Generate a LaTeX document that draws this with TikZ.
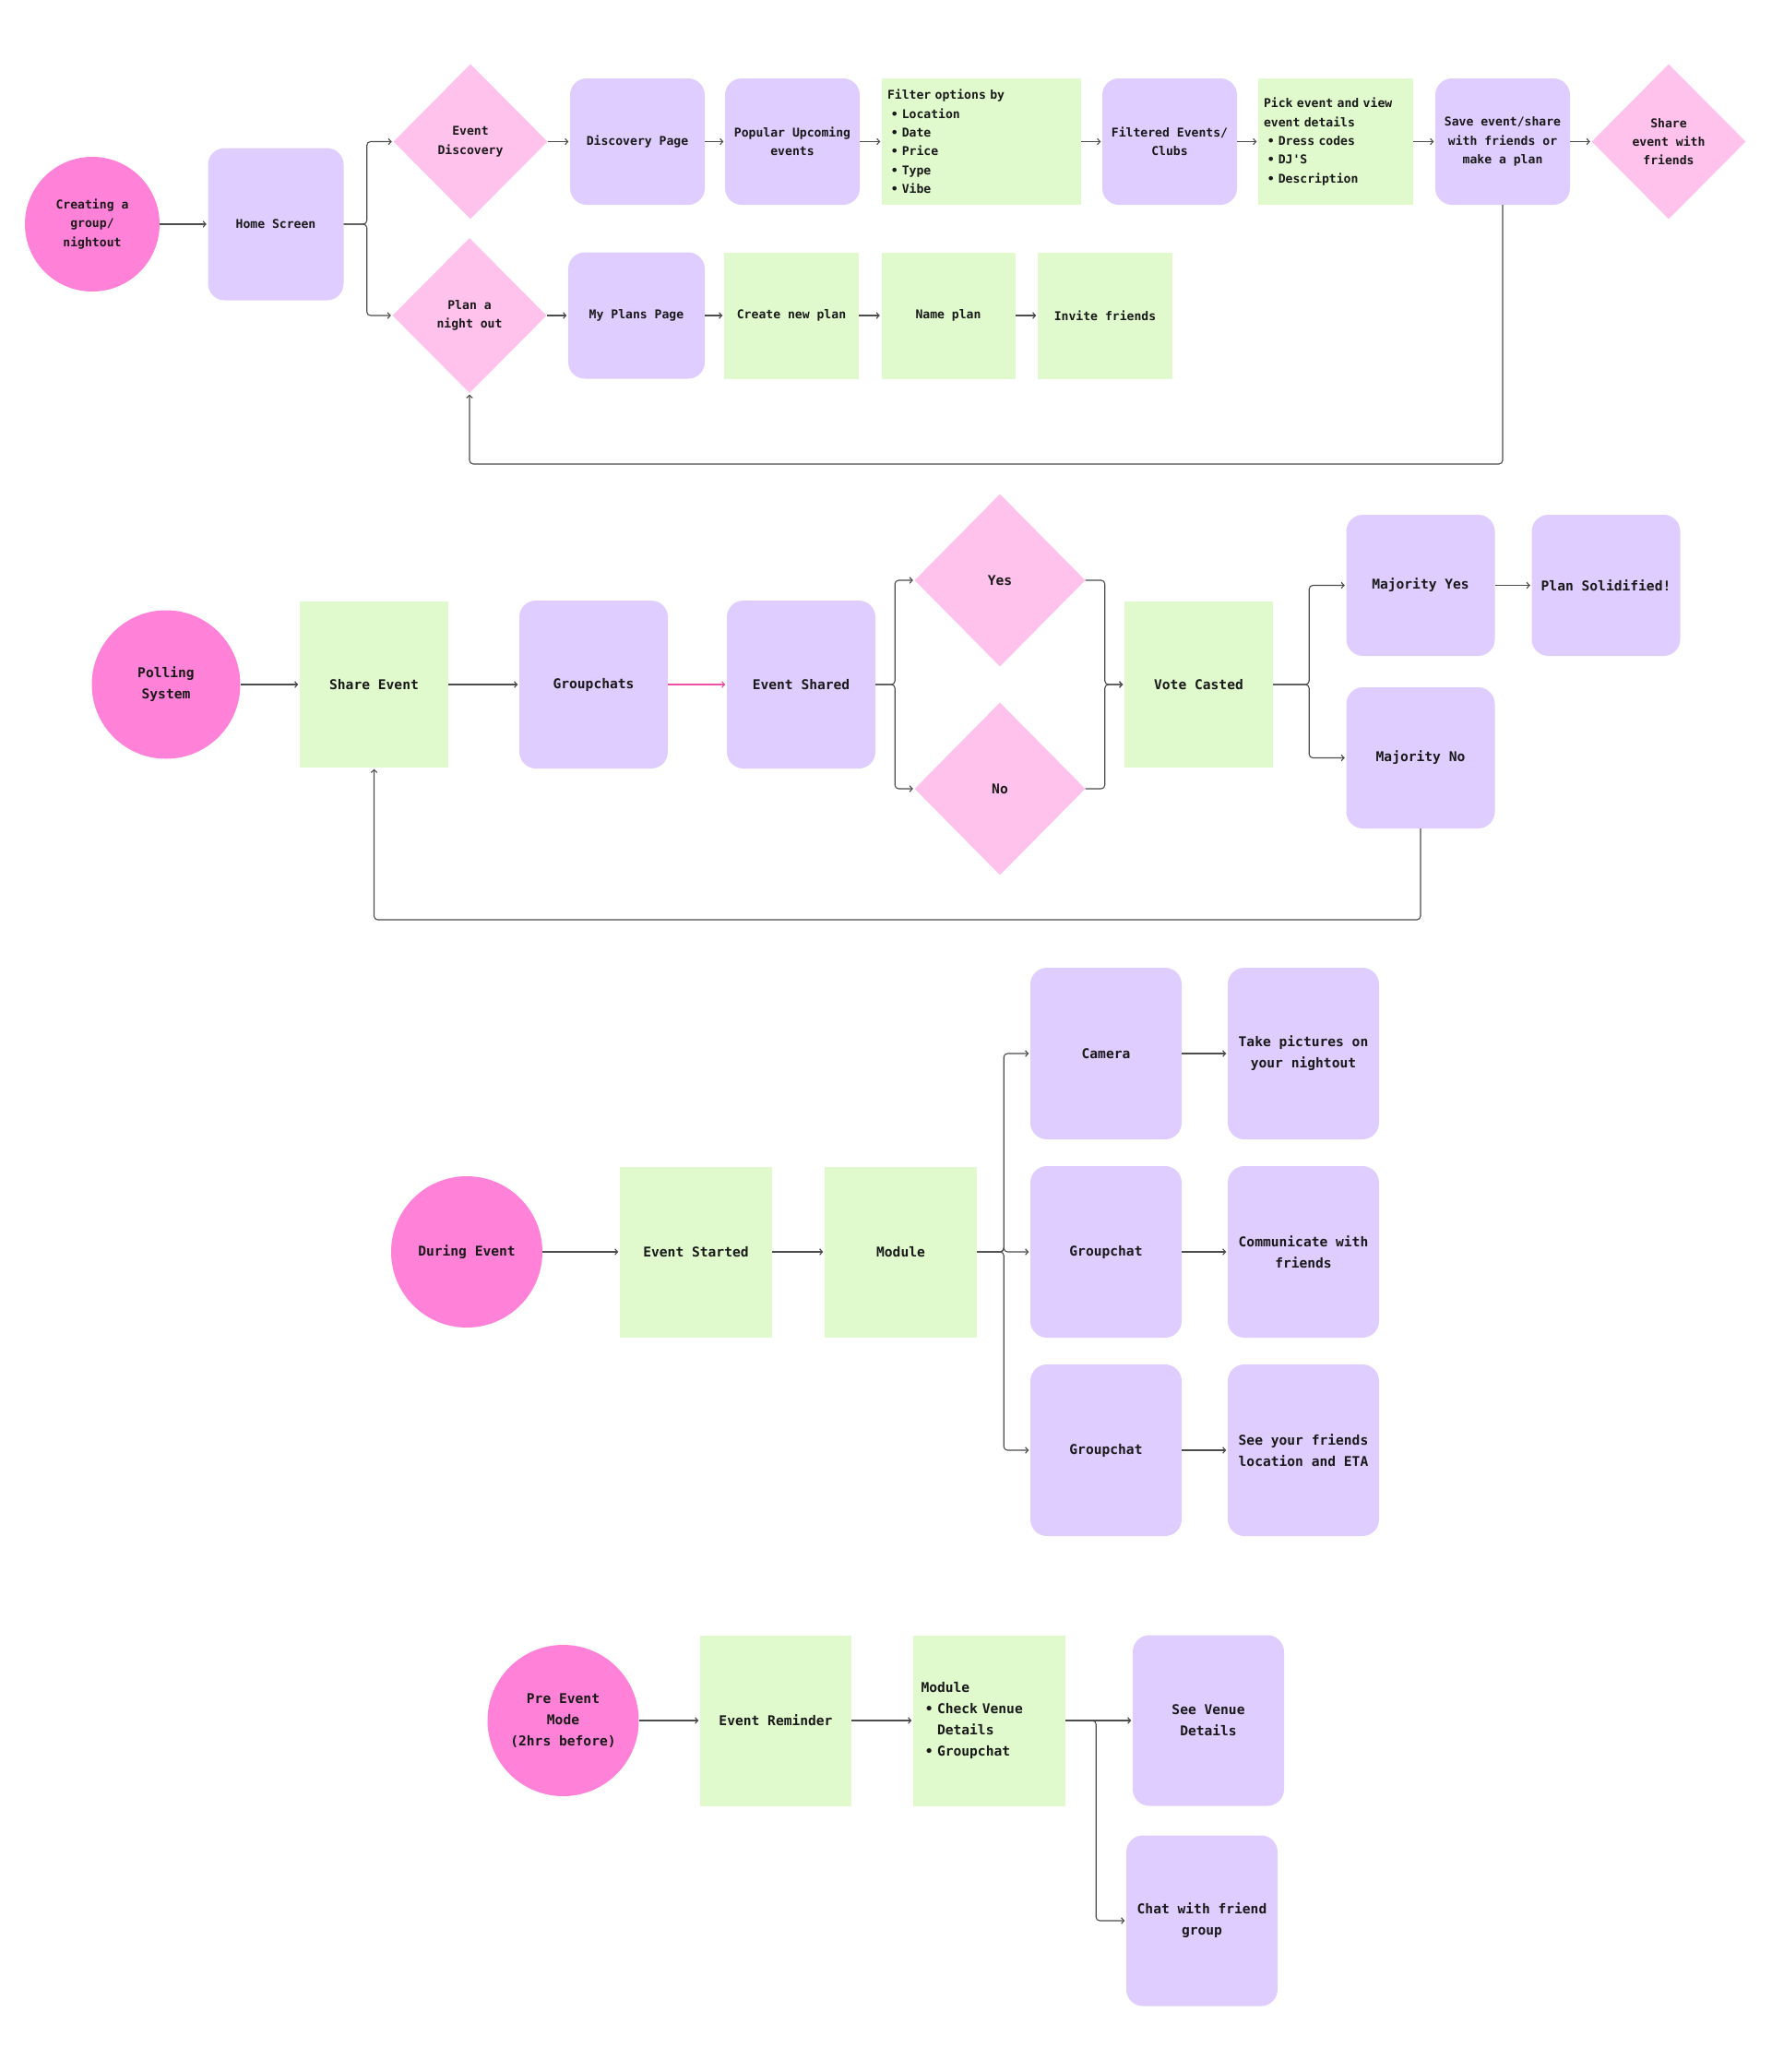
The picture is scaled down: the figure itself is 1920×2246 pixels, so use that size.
\documentclass[tikz,border=0pt]{standalone}
\usepackage{fontspec}
\setmonofont{DejaVu Sans Mono}
\usetikzlibrary{shapes.geometric,arrows.meta}
\definecolor{startpink}{RGB}{255,130,216}
\definecolor{choicepink}{RGB}{255,194,236}
\definecolor{screenlilac}{RGB}{223,205,255}
\definecolor{taskgreen}{RGB}{224,250,205}
\definecolor{linkpink}{RGB}{238,80,168}
\newcommand{\itm}[1]{\hspace*{0.3em}\textbullet\hspace*{0.3em}#1}
\newcommand{\ind}{\hspace*{1.2em}}
\begin{document}
\begin{tikzpicture}[x=1pt,y=-1pt,inner sep=0pt,
small/.style={font=\ttfamily\bfseries\fontsize{13.1}{20.3}\selectfont},
big/.style={font=\ttfamily\bfseries\fontsize{14.6}{23}\selectfont},
begin/.style={circle,fill=startpink,align=center,text=black!90},
screen/.style={rounded corners=18pt,fill=screenlilac,align=center,text=black!90},
task/.style={fill=taskgreen,align=center,text=black!90},
choice/.style={diamond,fill=choicepink,align=center,text=black!90,minimum width=167pt,minimum height=168pt},
link/.style={draw=black!70,line width=1.1pt,rounded corners=4pt,shorten >=1.5pt,-{Straight Barb[length=3pt,width=6.5pt]}}]
\useasboundingbox (0,0) rectangle (1920,2246);
\begin{scope}[small,every node/.append style={minimum width=146pt,minimum height=137pt}]
\node[begin,minimum size=146pt] (grp) at (100,243) {Creating a\\group/\\nightout};
\node[screen,minimum width=147pt,minimum height=165pt] (home) at (299,243) {Home Screen};
\node[choice] (evdisc) at (510,153.5) {Event\\Discovery};
\node[choice] (plan) at (509,342) {Plan a\\night out};
\node[screen] (disc) at (691,153.5) {Discovery Page};
\node[screen] (popular) at (859,153.5) {Popular Upcoming\\events};
\node[task,minimum width=216pt,text width=204pt,align=left] (filter) at (1064,153.5)
{Filter options by\\\itm{Location}\\\itm{Date}\\\itm{Price}\\\itm{Type}\\\itm{Vibe}};
\node[screen] (filtered) at (1268,153.5) {Filtered Events/\\Clubs};
\node[task,minimum width=168pt,text width=156pt,align=left] (pick) at (1448,153.5)
{Pick event and view\\event details\\\itm{Dress codes}\\\itm{DJ'S}\\\itm{Description}};
\node[screen] (save) at (1629,153.5) {Save event/share\\with friends or\\make a plan};
\node[choice] (sharefr) at (1809,153.5) {Share\\event with\\friends};
\node[screen,minimum width=148pt] (myplans) at (690,342) {My Plans Page};
\node[task] (newplan) at (858,342) {Create new plan};
\node[task,minimum width=145pt] (name) at (1028,342) {Name plan};
\node[task] (invite) at (1198,342) {Invite friends};
\end{scope}
\draw[link] (grp) -- (home);
\draw[link] (home.east) -- ++(25,0) |- (evdisc.west);
\draw[link] (home.east) -- ++(25,0) |- (plan.west);
\foreach \a/\b in {evdisc/disc,disc/popular,popular/filter,filter/filtered,filtered/pick,pick/save,save/sharefr,plan/myplans,myplans/newplan,newplan/name,name/invite}
{\draw[link] (\a) -- (\b);}
\coordinate (back1) at (509,503);
\draw[link] (save.south) |- (back1) -- (plan.south);
\begin{scope}[big,every node/.append style={minimum width=161pt,minimum height=182pt}]
\node[begin,minimum size=161pt] (poll) at (180,742) {Polling\\System};
\node[task,minimum height=180pt] (share) at (405.5,742) {Share Event};
\node[screen] (gchats) at (643.5,742) {Groupchats};
\node[screen] (shared) at (868.5,742) {Event Shared};
\node[choice,minimum width=185pt,minimum height=187pt] (yes) at (1084,629) {Yes};
\node[choice,minimum width=185pt,minimum height=187pt] (no) at (1084,855) {No};
\node[task,minimum height=180pt] (vote) at (1299.5,742) {Vote Casted};
\node[screen,minimum height=153pt] (myes) at (1540,634.5) {Majority Yes};
\node[screen,minimum height=153pt] (solid) at (1741,634.5) {Plan Solidified!};
\node[screen,minimum height=153pt] (mno) at (1540,821.5) {Majority No};
\end{scope}
\draw[link] (poll) -- (share);
\draw[link] (share) -- (gchats);
\draw[link,draw=linkpink] (gchats) -- (shared);
\foreach \X in {yes,no}
{\draw[link] (shared.east) -- ++(21,0) |- (\X.west);
\draw[link] (\X.east) -- ++(21,0) |- (vote.west);}
\foreach \X in {myes,mno}
{\draw[link] (vote.east) -- ++(39,0) |- (\X.west);}
\draw[link] (myes) -- (solid);
\coordinate (back2) at (405.5,997);
\draw[link] (mno.south) |- (back2) -- (share.south);
\begin{scope}[big,every node/.append style={minimum width=164pt,minimum height=186pt}]
\node[begin,minimum size=164pt] (during) at (506,1357) {During Event};
\node[task,minimum width=165pt,minimum height=185pt] (started) at (754.5,1357) {Event Started};
\node[task,minimum width=165pt,minimum height=185pt] (module) at (976.5,1357) {Module};
\node[screen] (camera) at (1199,1142) {Camera};
\node[screen] (gchat) at (1199,1357) {Groupchat};
\node[screen] (gchatb) at (1199,1572) {Groupchat};
\node[screen] (photos) at (1413,1142) {Take pictures on\\your nightout};
\node[screen] (talk) at (1413,1357) {Communicate with\\friends};
\node[screen] (eta) at (1413,1572) {See your friends\\location and ETA};
\end{scope}
\draw[link] (during) -- (started);
\draw[link] (started) -- (module);
\foreach \X/\Y in {camera/photos,gchat/talk,gchatb/eta}
{\draw[link] (module.east) -- ++(29,0) |- (\X.west);
\draw[link] (\X) -- (\Y);}
\begin{scope}[big,every node/.append style={minimum width=164pt,minimum height=185pt}]
\node[begin,minimum size=164pt] (pre) at (610.5,1865) {Pre Event\\Mode\\(2hrs before)};
\node[task] (remind) at (841,1865) {Event Reminder};
\node[task,minimum width=165pt,text width=148pt,align=left] (module2) at (1072.5,1865)
{Module\\\itm{Check Venue}\\\ind Details\\\itm{Groupchat}};
\node[screen] (venue) at (1310,1865) {See Venue\\Details};
\node[screen] (chat) at (1303,2082) {Chat with friend\\group};
\end{scope}
\draw[link] (pre) -- (remind);
\draw[link] (remind) -- (module2);
\draw[link] (module2) -- (venue);
\draw[link] (module2.east) -- ++(33,0) |- (chat.west);
\end{tikzpicture}
\end{document}
